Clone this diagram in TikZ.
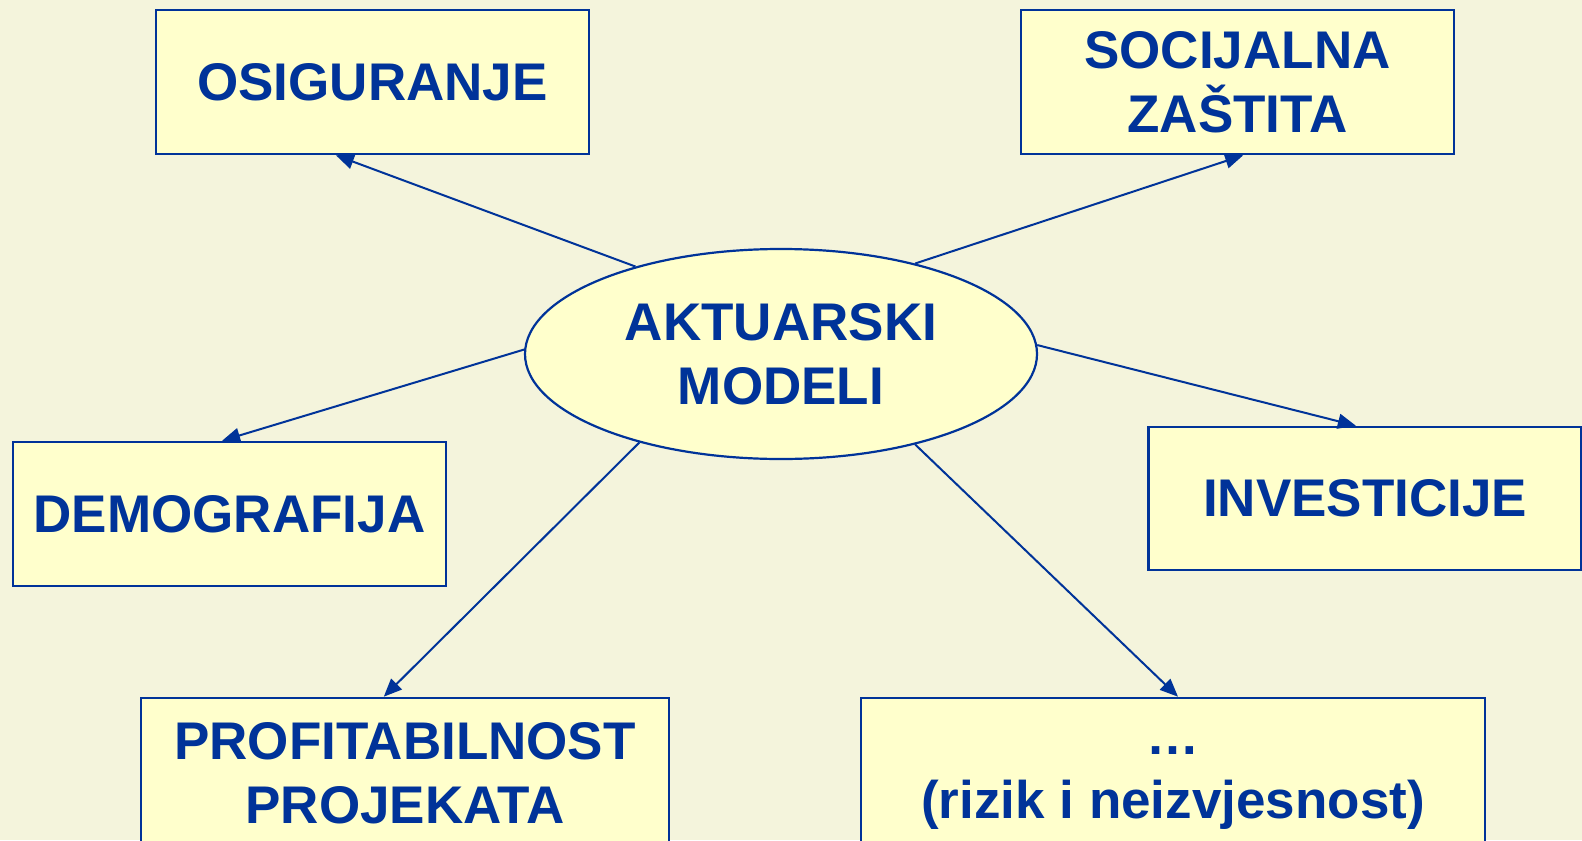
\documentclass[tikz,border=0pt]{standalone}
\usepackage{fontspec}
\setmainfont{Liberation Sans}
\usetikzlibrary{arrows.meta,shapes.geometric,calc}
\definecolor{bgcol}{HTML}{F4F4DC}
\definecolor{boxcol}{HTML}{FFFFCC}
\definecolor{navy}{HTML}{003399}

\begin{document}
\begin{tikzpicture}[x=0.5pt, y=-0.5pt,
  font=\fontsize{26.5}{32}\selectfont\bfseries, text=navy,
  tbox/.style={draw=navy, line width=1.3pt, fill=boxcol, inner sep=0pt, align=center, minimum width=216.5pt, minimum height=72pt},
  core/.style={ellipse, draw=navy, line width=1.1pt, fill=boxcol, inner sep=0pt, align=center, minimum width=256pt, minimum height=105pt},
  e/.style={draw=navy, line width=1pt, -{Triangle[length=9pt, width=7.5pt]}}]
\useasboundingbox (0,0) rectangle (1582,840);
\fill[bgcol] (0,0) rectangle (1582,840);
\clip (0,0) rectangle (1582,840);
\node[core] (model) at (781,354) {AKTUARSKI\\MODELI};
\node[tbox] (osig) at (372.5,82) {OSIGURANJE};
\node[tbox] (soc) at (1237.5,82) {SOCIJALNA\\ZAŠTITA};
\node[tbox] (demo) at (229.5,514) {DEMOGRAFIJA};
\node[tbox, minimum height=71.5pt] (inv) at (1365,498.5) {INVESTICIJE};
\node[tbox, minimum width=264pt, minimum height=75pt] (prof) at (405,773) {PROFITABILNOST\\PROJEKATA};
\node[tbox, minimum width=312pt, minimum height=75pt] (riz) at (1173,773) {\vphantom{(}…\\(rizik i neizvjesnost)};
% spokes from the centre
\draw[e] (model.149) -- ($(osig.south west)!0.416!(osig.south east)$);
\draw[e] (model.34) -- ($(soc.south west)!0.513!(soc.south east)$);
\draw[e] (model.179) -- ($(demo.north west)!0.483!(demo.north east)$);
\draw[e] (model.2) -- ($(inv.north west)!0.479!(inv.north east)$);
\draw[e] (model.212) -- ($(prof.north west)!0.46!(prof.north east)$);
\draw[e] (model.326) -- ($(riz.north west)!0.508!(riz.north east)$);
\end{tikzpicture}
\end{document}
